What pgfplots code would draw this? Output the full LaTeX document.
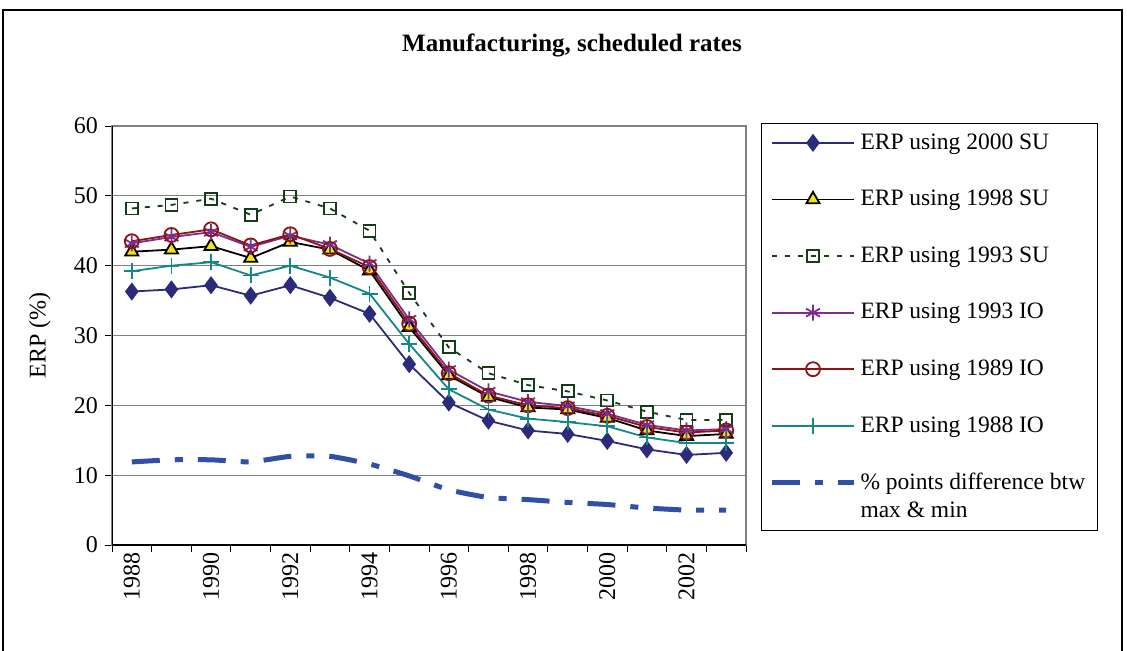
\documentclass[border=0pt]{standalone}
\usepackage{fontspec}
\setmainfont{Liberation Serif}
\usepackage{pgfplots}
\pgfplotsset{compat=1.18}
\usepackage{pgfplotstable}

\definecolor{navyc}{RGB}{43,43,122}
\definecolor{greenc}{RGB}{20,60,25}
\definecolor{purplec}{RGB}{125,45,140}
\definecolor{redc}{RGB}{140,20,20}
\definecolor{tealc}{RGB}{20,135,135}
\definecolor{bluec}{RGB}{48,80,168}
\definecolor{yellowc}{RGB}{240,230,20}

% year index 0 = 1988
\pgfplotstableread{
x su2000 su1998 su1993 io1993 io1989 io1988 diff
0  36.3 42.0 48.2 43.2 43.5 39.2 11.9
1  36.6 42.3 48.7 44.1 44.4 40.0 12.2
2  37.2 42.8 49.6 44.8 45.2 40.5 12.2
3  35.7 41.1 47.3 42.7 42.9 38.6 11.9
4  37.2 43.4 49.9 44.3 44.5 40.0 12.7
5  35.4 42.3 48.2 43.0 42.4 38.3 12.7
6  33.1 39.3 45.0 40.3 39.8 36.0 11.6
7  25.9 31.2 36.1 32.3 31.7 28.8 9.9
8  20.4 24.3 28.3 25.1 24.6 22.3 7.9
9  17.8 21.2 24.6 22.0 21.4 19.4 6.8
10 16.4 19.7 22.9 20.5 20.0 18.1 6.5
11 15.9 19.4 22.0 19.9 19.6 17.6 6.1
12 14.9 18.2 20.7 18.8 18.5 17.0 5.8
13 13.7 16.4 19.1 17.2 16.9 15.4 5.3
14 12.9 15.6 17.9 16.4 16.1 14.6 5.0
15 13.2 15.9 17.9 16.6 16.4 14.6 5.0
}\erp

\begin{document}
\begin{tikzpicture}
\useasboundingbox (-56pt,-52.5pt) rectangle (507.5pt,272.5pt);
\draw[black, line width=0.7pt] (-54.5pt,-60pt) -- (-54.5pt,267.5pt) -- (505pt,267.5pt) -- (505pt,-60pt);
\node[font=\fontsize{12.5}{14}\selectfont\bfseries] at (230pt,250pt) {Manufacturing, scheduled rates};
\begin{axis}[
  scale only axis,
  width=317pt, height=209.5pt,
  at={(0,0)}, anchor=south west,
  xmin=-0.5, xmax=15.5,
  ymin=0, ymax=60,
  ytick={0,10,...,60},
  xtick={-0.5,0.5,...,15.5},
  xticklabels={},
  extra x ticks={0,2,...,14},
  extra x tick labels={1988,1990,1992,1994,1996,1998,2000,2002},
  extra x tick style={major tick length=0pt, grid=none},
  x tick label style={rotate=90, anchor=east, font=\fontsize{12}{14}\selectfont},
  y tick label style={font=\fontsize{12}{14}\selectfont},
  /pgf/number format/assume math mode=true,
  xtick pos=left, ytick pos=left,
  tick align=outside,
  major tick length=3.5pt,
  tick style={black, line width=0.5pt},
  axis line style={draw=gray, line width=0.6pt},
  ymajorgrids,
  major grid style={gray, line width=0.6pt},
  ylabel={ERP (\%)},
  every axis y label/.style={at={(axis description cs:-0.1136,0.5)}, rotate=90, anchor=center, font=\fontsize{12}{14}\selectfont},
  legend style={at={(1,1)}, anchor=north west, xshift=7.5pt, yshift=1.5pt,
    draw=black, line width=0.5pt, font=\fontsize{11.75}{14}\selectfont,
    row sep=15pt, inner xsep=4pt, inner ysep=3pt,
    cells={align=left, anchor=west}},
  legend cell align=left,
  legend image code/.code={\draw[mark repeat=2,mark phase=2] plot coordinates {(0pt,0pt) (20.5pt,0pt) (41pt,0pt)};},
]
\addplot[navyc, line width=0.9pt, mark=diamond*, mark size=3.8pt, mark options={solid, fill=navyc}] table[x=x,y=su2000] {\erp};
\addlegendentry{ERP using 2000 SU}
\addplot[black, line width=0.9pt, mark=triangle*, mark size=3.8pt, mark options={solid, fill=yellowc, draw=black}] table[x=x,y=su1998] {\erp};
\addlegendentry{ERP using 1998 SU}
\addplot[greenc, line width=0.9pt, dash pattern=on 2.5pt off 4pt, mark=square, mark size=3pt, mark options={solid, line width=0.9pt}] table[x=x,y=su1993] {\erp};
\addlegendentry{ERP using 1993 SU}
\addplot[purplec, line width=0.9pt, mark=asterisk, mark size=4pt, mark options={solid}] table[x=x,y=io1993] {\erp};
\addlegendentry{ERP using 1993 IO}
\addplot[redc, line width=0.9pt, mark=o, mark size=3.5pt, mark options={solid}] table[x=x,y=io1989] {\erp};
\addlegendentry{ERP using 1989 IO}
\addplot[tealc, line width=0.9pt, mark=+, mark size=4pt, mark options={solid}] table[x=x,y=io1988] {\erp};
\addlegendentry{ERP using 1988 IO}
\addplot[bluec, line width=2.5pt, dash pattern=on 14pt off 7.5pt on 4pt off 7.5pt, smooth, tension=0.3,
  legend image code/.code={\draw (0pt,7pt) -- (41pt,7pt); \path (0pt,-7pt);}] table[x=x,y=diff] {\erp};
\addlegendentry{\% points difference btw\\max \& min}
\draw[black, line width=0.7pt] (rel axis cs:0,1) -- (rel axis cs:0,0) -- (rel axis cs:1,0);
\end{axis}
\end{tikzpicture}
\end{document}
